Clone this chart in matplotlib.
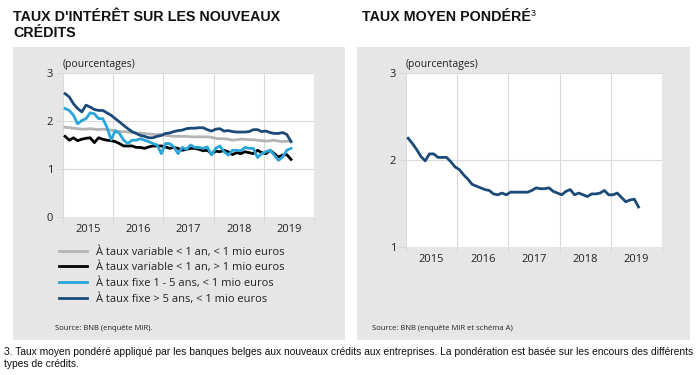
import matplotlib
matplotlib.use("Agg")
import matplotlib.pyplot as plt
from matplotlib.patches import Rectangle
from matplotlib.ticker import FixedLocator, NullFormatter, FixedFormatter
import numpy as np

# ---------------- data ----------------
start_year = 2015
years = ["2015", "2016", "2017", "2018", "2019"]

fixed_gt5 = [2.57, 2.50, 2.36, 2.26, 2.19, 2.33, 2.29, 2.24, 2.22, 2.22, 2.17, 2.12,
             2.05, 1.98, 1.91, 1.84, 1.78, 1.74, 1.70, 1.68, 1.65, 1.65, 1.68, 1.70,
             1.74, 1.75, 1.78, 1.80, 1.81, 1.84, 1.85, 1.85, 1.86, 1.86, 1.82, 1.79,
             1.83, 1.84, 1.79, 1.80, 1.78, 1.77, 1.77, 1.77, 1.78, 1.82, 1.82, 1.78,
             1.79, 1.76, 1.74, 1.74, 1.76, 1.72, 1.57]
fixed_1_5 = [2.26, 2.22, 2.12, 1.94, 2.01, 2.05, 2.17, 2.15, 2.05, 2.05, 1.87, 1.61,
             1.80, 1.74, 1.60, 1.53, 1.60, 1.60, 1.63, 1.60, 1.57, 1.53, 1.50, 1.32,
             1.53, 1.53, 1.46, 1.32, 1.45, 1.41, 1.50, 1.45, 1.45, 1.43, 1.46, 1.29,
             1.43, 1.48, 1.36, 1.29, 1.39, 1.39, 1.38, 1.45, 1.43, 1.43, 1.24, 1.32,
             1.36, 1.39, 1.29, 1.18, 1.25, 1.39, 1.43]
var_lt1 = [1.87, 1.86, 1.85, 1.84, 1.83, 1.83, 1.84, 1.83, 1.82, 1.83, 1.82, 1.81,
           1.79, 1.78, 1.78, 1.77, 1.76, 1.75, 1.75, 1.74, 1.73, 1.72, 1.72, 1.71,
           1.70, 1.69, 1.68, 1.68, 1.68, 1.68, 1.67, 1.67, 1.67, 1.67, 1.67, 1.66,
           1.64, 1.63, 1.63, 1.62, 1.60, 1.61, 1.62, 1.62, 1.61, 1.61, 1.60, 1.59,
           1.58, 1.59, 1.60, 1.58, 1.57, 1.58, 1.58]
var_gt1 = [1.68, 1.60, 1.65, 1.59, 1.62, 1.64, 1.65, 1.55, 1.65, 1.62, 1.60, 1.59,
           1.57, 1.53, 1.48, 1.48, 1.48, 1.45, 1.45, 1.43, 1.46, 1.48, 1.48, 1.48,
           1.46, 1.43, 1.45, 1.43, 1.39, 1.41, 1.43, 1.43, 1.41, 1.38, 1.39, 1.32,
           1.37, 1.36, 1.39, 1.36, 1.30, 1.34, 1.32, 1.36, 1.34, 1.32, 1.39, 1.34,
           1.32, 1.39, 1.32, 1.25, 1.29, 1.30, 1.20]
weighted = [2.25, 2.19, 2.12, 2.04, 1.99, 2.07, 2.07, 2.03, 2.03, 2.03, 1.98, 1.92,
            1.89, 1.83, 1.78, 1.72, 1.70, 1.68, 1.66, 1.65, 1.61, 1.60, 1.62, 1.60,
            1.63, 1.63, 1.63, 1.63, 1.63, 1.65, 1.68, 1.67, 1.67, 1.68, 1.64, 1.62,
            1.60, 1.64, 1.66, 1.60, 1.62, 1.60, 1.58, 1.61, 1.61, 1.62, 1.65, 1.60,
            1.60, 1.62, 1.57, 1.52, 1.54, 1.55, 1.46]

labels_left = ["À taux variable < 1 an, < 1 mio euros",
               "À taux variable < 1 an, > 1 mio euros",
               "À taux fixe 1 - 5 ans, < 1 mio euros",
               "À taux fixe > 5 ans, < 1 mio euros"]

# ---------------- style ----------------
GRAY_BG = "#e6e6e6"
GRID = "#d9d9d9"
C_GRAY = "#b4b4b4"
C_BLACK = "#000000"
C_LIGHT = "#2aa5d8"
C_DARK = "#1c4a78"
TXT = "#222222"
TICKFONT = ["Open Sans", "DejaVu Sans"]
TITLEFONT = ["Liberation Sans", "DejaVu Sans"]

W, H = 700, 375
fig = plt.figure(figsize=(7, 3.75), dpi=100)
fig.patch.set_facecolor("white")


def fx(px):
    return px / W


def fy(py):
    return 1 - py / H


# gray panels (behind axes)
fig.patches.append(Rectangle((fx(13), fy(340)), fx(345 - 13), (340 - 47) / H,
                             transform=fig.transFigure, facecolor=GRAY_BG, edgecolor="none", zorder=-5))
fig.patches.append(Rectangle((fx(357), fy(340)), fx(690 - 357), (340 - 47) / H,
                             transform=fig.transFigure, facecolor=GRAY_BG, edgecolor="none", zorder=-5))

n = len(weighted)
x = start_year + (np.arange(n) + 0.5) / 12.0


def style_axes(ax, ymin, ymax):
    ax.set_zorder(2)
    ax.set_facecolor("white")
    ax.set_xlim(2015, 2020)
    ax.set_ylim(ymin, ymax)
    for s in ax.spines.values():
        s.set_visible(False)
    ax.xaxis.set_major_locator(FixedLocator([2015, 2016, 2017, 2018, 2019, 2020]))
    ax.xaxis.set_major_formatter(NullFormatter())
    ax.xaxis.set_minor_locator(FixedLocator([2015.5, 2016.5, 2017.5, 2018.5, 2019.5]))
    ax.xaxis.set_minor_formatter(FixedFormatter(years))
    ax.set_yticks(np.arange(ymin, ymax + 1))
    ax.tick_params(axis="x", which="major", length=4, color=GRID, width=0.8)
    ax.tick_params(axis="x", which="minor", length=0, labelsize=8, labelcolor=TXT, pad=5)
    ax.tick_params(axis="y", length=5, color=GRID, width=0.8, labelsize=8, labelcolor=TXT, pad=2)
    for lab in ax.get_xticklabels(minor=True) + ax.get_yticklabels():
        lab.set_family(TICKFONT)
    ax.grid(True, which="major", color=GRID, linewidth=0.8)
    ax.set_axisbelow(True)
    ax.text(0.0, 1.02, "(pourcentages)", transform=ax.transAxes, fontsize=7.5,
            color=TXT, family=TICKFONT, ha="left", va="bottom")


# ---------------- left chart ----------------
axL = fig.add_axes([fx(63), fy(217), fx(314 - 63), (217 - 73) / H])
style_axes(axL, 0, 3)
lw = 2.0
l1, = axL.plot(x, var_lt1, color=C_GRAY, lw=lw, label=labels_left[0])
l2, = axL.plot(x, var_gt1, color=C_BLACK, lw=lw, label=labels_left[1])
l3, = axL.plot(x, fixed_1_5, color=C_LIGHT, lw=lw, label=labels_left[2])
l4, = axL.plot(x, fixed_gt5, color=C_DARK, lw=lw, label=labels_left[3])

leg = fig.legend(handles=[l1, l2, l3, l4], loc="upper left",
                 bbox_to_anchor=(fx(59), fy(246)), frameon=False,
                 prop={"family": TICKFONT, "size": 8}, handlelength=2.5,
                 handletextpad=0.8, labelspacing=0.38, borderaxespad=0, borderpad=0)
for t in leg.get_texts():
    t.set_color(TXT)

fig.text(fx(55), fy(329), "Source: BNB (enquête MIR).", fontsize=5.5, color=TXT,
         family=TICKFONT, va="center", ha="left")

# ---------------- right chart ----------------
axR = fig.add_axes([fx(406), fy(247), fx(662 - 406), (247 - 73) / H])
style_axes(axR, 1, 3)
axR.plot(x, weighted, color=C_DARK, lw=lw)

fig.text(fx(372), fy(329), "Source: BNB (enquête MIR et schéma A)", fontsize=5.5, color=TXT,
         family=TICKFONT, va="center", ha="left")

# ---------------- titles ----------------
fig.text(fx(13), fy(21), "TAUX D'INTÉRÊT SUR LES NOUVEAUX", fontsize=10.3,
         fontweight="bold", family=TITLEFONT, ha="left", va="baseline", color="#111111")
fig.text(fx(13), fy(37), "CRÉDITS", fontsize=10.3,
         fontweight="bold", family=TITLEFONT, ha="left", va="baseline", color="#111111")
tR = fig.text(fx(362), fy(21), "TAUX MOYEN PONDÉRÉ", fontsize=10.3,
              fontweight="bold", family=TITLEFONT, ha="left", va="baseline", color="#111111")
renderer = fig.canvas.get_renderer()
bb = tR.get_window_extent(renderer=renderer)
fig.text(bb.x1 / W, fy(16), "3", fontsize=6.5, family=TITLEFONT, ha="left",
         va="baseline", color="#111111")

# ---------------- footnote ----------------
fig.text(fx(4), fy(355), "3. Taux moyen pondéré appliqué par les banques belges aux nouveaux crédits aux entreprises. "
         "La pondération est basée sur les encours des différents",
         fontsize=7.4, family=TITLEFONT, ha="left", va="baseline", color="#111111")
fig.text(fx(4), fy(367), "types de crédits.",
         fontsize=7.4, family=TITLEFONT, ha="left", va="baseline", color="#111111")

fig.savefig("out.png", dpi=100, facecolor="white")
